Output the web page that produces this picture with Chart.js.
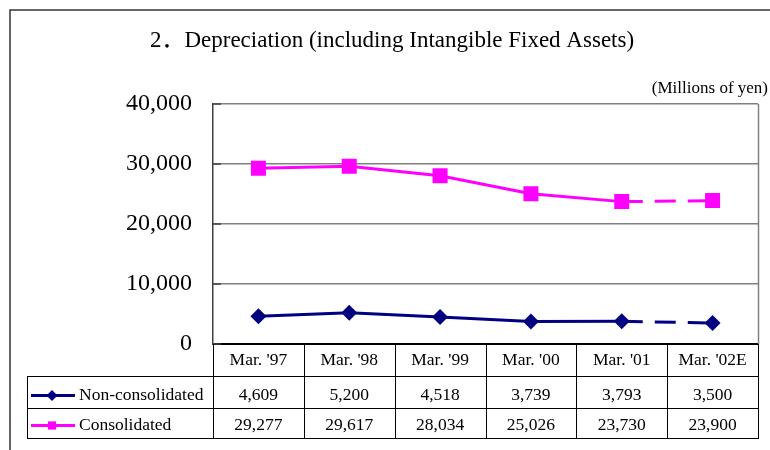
<!DOCTYPE html>
<html><head><meta charset="utf-8">
<script src="https://cdn.jsdelivr.net/npm/chart.js@4"></script>
<style>html,body{margin:0;padding:0;background:#fff;}canvas{display:block}</style>
</head><body>
<canvas id="c" width="770" height="450"></canvas>
<script>
const titleText = "2．Depreciation (including Intangible Fixed Assets)";
const unitText = "(Millions of yen)";
const categories = ["Mar. '97", "Mar. '98", "Mar. '99", "Mar. '00", "Mar. '01", "Mar. '02E"];
const seriesNames = ["Non-consolidated", "Consolidated"];
const nonConsolidated = [4609, 5200, 4518, 3739, 3793, 3500];
const consolidated = [29277, 29617, 28034, 25026, 23730, 23900];
const yTickMin = 0, yTickMax = 40000, yTickStep = 10000;
const estimateFrom = 4; // segment from this index onward is an estimate (dashed)

const SERIF = "'Liberation Serif','Times New Roman','Noto Sans CJK JP',serif";
const NAVY = '#000080', MAGENTA = '#FF00FF';
const fmt = v => Number(v).toLocaleString('en-US');
const dashEst = c => c.p0DataIndex >= estimateFrom ? [21, 12] : undefined;

const frameTable = {
  id: 'frameTable',
  beforeDraw(chart) {
    const ctx = chart.ctx;
    ctx.save();
    ctx.fillStyle = '#fff';
    ctx.fillRect(0, 0, chart.width, chart.height);
    ctx.restore();
  },
  afterDraw(chart) {
    const { ctx, chartArea: a, scales: { x, y } } = chart;
    ctx.save();
    // outer frame
    ctx.strokeStyle = '#333'; ctx.lineWidth = 1.5;
    ctx.beginPath(); ctx.moveTo(10, 450); ctx.lineTo(10, 10); ctx.lineTo(770, 10); ctx.stroke();
    // title & unit
    ctx.fillStyle = '#000';
    ctx.textAlign = 'center'; ctx.textBaseline = 'alphabetic';
    ctx.font = "23px " + SERIF;
    ctx.fillText(titleText, 392, 47);
    ctx.textAlign = 'right';
    ctx.font = "17px " + SERIF;
    ctx.fillText(unitText, 768, 93);
    // plot right border
    ctx.strokeStyle = '#808080'; ctx.lineWidth = 1.5;
    ctx.beginPath(); ctx.moveTo(a.right + 0.5, a.top); ctx.lineTo(a.right + 0.5, a.bottom); ctx.stroke();
    // inside ticks
    ctx.strokeStyle = '#404040'; ctx.lineWidth = 1.5;
    y.ticks.forEach(t => {
      const py = y.getPixelForValue(t.value);
      ctx.beginPath(); ctx.moveTo(a.left, py); ctx.lineTo(a.left + 8, py); ctx.stroke();
    });
    // data table
    const n = categories.length;
    const colW = (a.right - a.left) / n;
    const edges = [];
    for (let i = 0; i < n; i++) edges.push(x.getPixelForValue(i) - colW / 2);
    edges.push(x.getPixelForValue(n - 1) + colW / 2);
    const top = a.bottom, r1 = 377, r2 = 409, r3 = 439, legL = 27;
    ctx.strokeStyle = '#000'; ctx.lineWidth = 1;
    ctx.beginPath();
    edges.forEach(e => { const ex = Math.round(e) + 0.5; ctx.moveTo(ex, top); ctx.lineTo(ex, r3); });
    ctx.moveTo(legL + 0.5, r1); ctx.lineTo(legL + 0.5, r3);
    [r1, r2, r3].forEach(ry => { ctx.moveTo(legL, ry - 0.5); ctx.lineTo(edges[n] + 1, ry - 0.5); });
    ctx.stroke();
    ctx.fillStyle = '#000';
    ctx.font = "17.5px " + SERIF;
    ctx.textAlign = 'center';
    categories.forEach((c, i) => ctx.fillText(c, x.getPixelForValue(i), 365));
    const rows = [
      { name: seriesNames[0], vals: nonConsolidated, color: NAVY, style: 'rectRot', r: 5.5, ly: 395.5, by: 400 },
      { name: seriesNames[1], vals: consolidated, color: MAGENTA, style: 'rect', r: 5.8, ly: 425.5, by: 430 }
    ];
    rows.forEach(row => {
      ctx.textAlign = 'center';
      row.vals.forEach((v, i) => ctx.fillText(fmt(v), x.getPixelForValue(i), row.by));
      ctx.strokeStyle = row.color; ctx.lineWidth = 3;
      ctx.beginPath(); ctx.moveTo(31, row.ly); ctx.lineTo(75, row.ly); ctx.stroke();
      ctx.fillStyle = row.color;
      Chart.helpers.drawPoint(ctx, { pointStyle: row.style, radius: row.r, borderWidth: 0, rotation: 0 }, 52, row.ly);
      ctx.fillStyle = '#000';
      ctx.textAlign = 'left';
      ctx.fillText(row.name, 79, row.by);
    });
    ctx.restore();
  }
};

new Chart(document.getElementById('c'), {
  type: 'line',
  data: {
    labels: categories,
    datasets: [
      { label: seriesNames[0], data: nonConsolidated, borderColor: NAVY, backgroundColor: NAVY,
        borderWidth: 3, pointStyle: 'rectRot', pointRadius: 8, pointHoverRadius: 8, pointBorderWidth: 0,
        pointBackgroundColor: NAVY, tension: 0, segment: { borderDash: dashEst } },
      { label: seriesNames[1], data: consolidated, borderColor: MAGENTA, backgroundColor: MAGENTA,
        borderWidth: 3, pointStyle: 'rect', pointRadius: 10.6, pointHoverRadius: 10.6, pointBorderWidth: 0,
        pointBackgroundColor: MAGENTA, tension: 0, segment: { borderDash: dashEst } }
    ]
  },
  options: {
    responsive: false, animation: false, devicePixelRatio: 1,
    layout: { padding: { left: 0, top: 104, right: 12, bottom: 106 } },
    plugins: { legend: { display: false }, title: { display: false }, tooltip: { enabled: false } },
    scales: {
      x: { type: 'category', display: false, offset: true },
      y: {
        min: yTickMin, max: yTickMax,
        afterFit(s) { s.width = 213; },
        border: { display: true, color: '#404040', width: 1.5 },
        grid: {
          drawTicks: false,
          color: c => c.tick && c.tick.value === 0 ? '#000' : '#808080',
          lineWidth: c => c.tick && c.tick.value === 0 ? 2 : 1.5
        },
        ticks: { stepSize: yTickStep, padding: 21, color: '#000', font: { family: SERIF, size: 24 },
                 callback: v => fmt(v) }
      }
    }
  },
  plugins: [frameTable]
});
</script>
</body></html>
